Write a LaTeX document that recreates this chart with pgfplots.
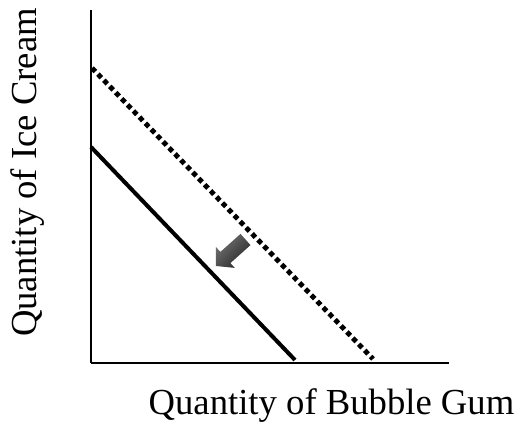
\documentclass[border=0pt]{standalone}
\usepackage{pgfplots}
\pgfplotsset{compat=1.18}
\usepackage{fontspec}
\setmainfont{Liberation Serif}

% 1 data unit = 1 px of the 522x423 reference (0.75pt)
\begin{document}
\begin{tikzpicture}
\begin{axis}[
  scale only axis,
  width=268.5pt, height=264.75pt,
  xmin=91, xmax=449,
  ymin=60, ymax=413,
  axis lines=left,
  axis line style={-, line width=2pt, black},
  ticks=none,
  clip=false,
]
% old budget line (dotted) and new one (solid)
\addplot[black, line width=3.7pt, dash pattern=on 3.7pt off 2.7pt] coordinates {(92,355) (373,64)};
\addplot[black, line width=3pt] coordinates {(91,276) (295,63)};

% shift arrow
\shade[left color=black!55, right color=black!85, shading angle=45]
  (axis cs:240.5,189.1) -- (axis cs:250.5,177.9) -- (axis cs:230.4,159.9)
  -- (axis cs:234.8,155.1) -- (axis cs:216,157) -- (axis cs:216,175.9)
  -- (axis cs:220.4,171.1) -- cycle;

% labels
\node[anchor=base, font=\fontsize{27.5pt}{33pt}\selectfont]
  at (axis cs:331.5,8) {Quantity of Bubble Gum};
\node[anchor=base, rotate=90, font=\fontsize{27.5pt}{33pt}\selectfont]
  at (axis cs:37,250.5) {Quantity of Ice Cream};

% page extent
\path (axis cs:0,0) rectangle (axis cs:522,423);
\end{axis}
\end{tikzpicture}
\end{document}
